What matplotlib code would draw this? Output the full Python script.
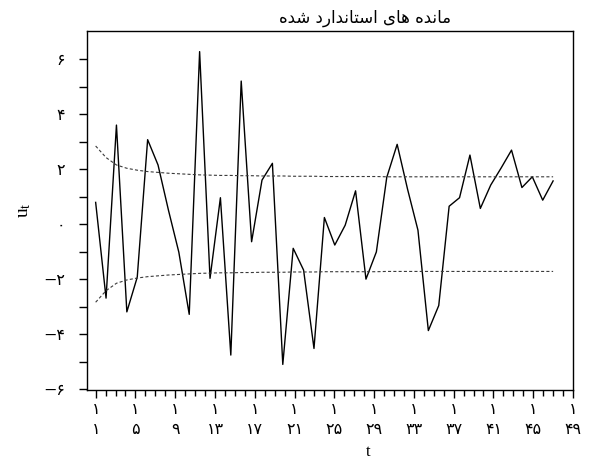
import numpy as np
import matplotlib
matplotlib.use("Agg")
import matplotlib.pyplot as plt

# Standardized residuals u_t
residuals = [0.79, -2.69, 3.60, -3.19, -1.93, 3.07, 2.15, 0.51, -1.02, -3.28,
             6.27, -1.97, 0.96, -4.76, 5.20, -0.64, 1.60, 2.21, -5.10, -0.88,
             -1.67, -4.52, 0.24, -0.76, -0.04, 1.21, -2.00, -1.01, 1.70, 2.90,
             1.27, -0.22, -3.87, -2.96, 0.65, 0.96, 2.51, 0.57, 1.42, 2.04,
             2.69, 1.33, 1.72, 0.87, 1.57]

# Half-width of the confidence band around zero
band = [2.84, 2.42, 2.15, 2.03, 1.96, 1.91, 1.88, 1.85, 1.83, 1.81,
        1.79, 1.78, 1.77, 1.77, 1.76, 1.76, 1.75, 1.75, 1.75, 1.74,
        1.74, 1.74, 1.73, 1.73, 1.73, 1.73, 1.73, 1.73, 1.72, 1.72,
        1.72, 1.72, 1.72, 1.72, 1.72, 1.72, 1.72, 1.72, 1.72, 1.72,
        1.72, 1.72, 1.72, 1.72, 1.72]

x_ticks = [1, 5, 9, 13, 17, 21, 25, 29, 33, 37, 41, 45, 49]
y_ticks = [-6, -4, -2, 0, 2, 4, 6]

PERSIAN = str.maketrans("0123456789", "۰۱۲۳۴۵۶۷۸۹")


def fa(n):
    s = str(abs(n)).translate(PERSIAN)
    return ("\u2212" + s) if n < 0 else s


# Title "مانده های استاندارد شده" written with Arabic presentation forms
# (logical order), then reversed for left-to-right display.
title_forms = [
    "\uFEE3", "\uFE8E", "\uFEE7", "\uFEAA", "\uFEE9", " ",
    "\uFEEB", "\uFE8E", "\uFBFC", " ",
    "\uFE8D", "\uFEB3", "\uFE98", "\uFE8E", "\uFEE7", "\uFEAA", "\uFE8D", "\uFEAD", "\uFEA9", " ",
    "\uFEB7", "\uFEAA", "\uFEE9",
]
title_text = "".join(reversed(title_forms))

plt.rcParams["font.family"] = ["DejaVu Sans"]
plt.rcParams["lines.scale_dashes"] = False

fig = plt.figure(figsize=(6.05, 4.63), dpi=100)
ax = fig.add_axes([87 / 605, 1 - 390 / 463, 486 / 605, 359 / 463])

n = len(residuals)
t = np.linspace(1, 47, n)
res = np.array(residuals)
bw = np.array(band)

ax.plot(t, res, color="black", lw=1.0)
ax.plot(t, bw, color="#3a3a3a", lw=0.8, dashes=(2.2, 1.6))
ax.plot(t, -bw, color="#3a3a3a", lw=0.8, dashes=(2.2, 1.6))

ax.set_xlim(0.13, 49)
ax.set_ylim(-6.03, 7.02)

ax.set_xticks(x_ticks)
ax.set_xticklabels(["۱\n" + fa(v) for v in x_ticks], linespacing=1.35)
ax.set_xticks(np.arange(1, 50, 1), minor=True)
ax.set_yticks(y_ticks)
ax.set_yticklabels([fa(v) for v in y_ticks])
ax.set_yticks(np.arange(-5, 7, 2), minor=True)

ax.tick_params(axis="x", which="major", length=6, width=1, pad=3, labelsize=11.5)
ax.tick_params(axis="x", which="minor", length=4, width=1)
ax.tick_params(axis="y", which="both", length=6, width=1, pad=10, labelsize=11.5)

for sp in ax.spines.values():
    sp.set_linewidth(1.0)
    sp.set_color("black")

ax.set_title(title_text, fontsize=12, x=0.572, pad=6)
ax.set_xlabel("t", family="Liberation Serif", fontsize=12, labelpad=5, x=0.578)
ax.set_ylabel(r"$\mathregular{u_t}$", family="Liberation Serif", fontsize=14, labelpad=7)

fig.savefig("out.png", dpi=100)
